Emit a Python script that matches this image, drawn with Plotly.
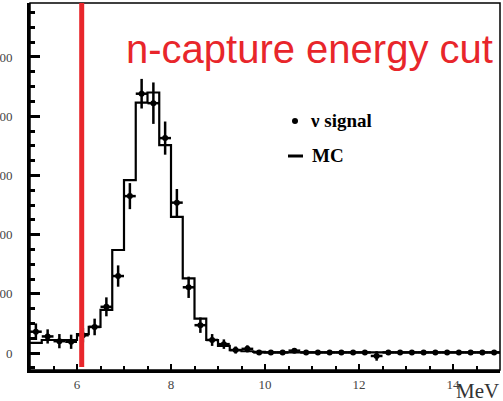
import plotly.graph_objects as go

# ---- data ----
bin_width = 0.25
bin_edges = [5.0 + 0.25 * i for i in range(41)]
bin_centers = [5.125 + 0.25 * i for i in range(40)]

signal = [36, 28, 20, 19, 30, 44, 78, 130, 265, 438,
          422, 363, 254, 111, 47, 22, 15, 5, 7, 1,
          1, 1, 4, 1, 1, 1, 1, 1, 1, -5,
          1, 1, 1, 1, 1, 1, 1, 1, 1, 1]
signal_err = [14, 12, 12, 12, 12, 14, 16, 18, 22, 25,
              35, 28, 23, 18, 13, 10, 8, 6, 6, 4,
              3, 3, 4, 3, 3, 3, 3, 3, 3, 8,
              3, 3, 3, 3, 3, 3, 3, 3, 3, 3]
mc = [17, 22, 22, 22, 32, 44, 73, 174, 292, 423,
      440, 351, 230, 126, 58, 22, 12, 5, 3, 2,
      1, 1, 1, 1, 1, 1, 1, 1, 1, 1,
      1, 1, 1, 1, 1, 1, 1, 1, 1, 1]

cut_energy = 6.1
y_tickvals = [0, 100, 200, 300, 400, 500]
x_tickvals = [6, 8, 10, 12, 14]

W, H = 503, 401
ML, MR, MT, MB = 30, 3, 3, 31
PW, PH = W - ML - MR, H - MT - MB


def px(x):
    return (x - ML) / PW


def py(y):
    return (H - MB - y) / PH


fig = go.Figure()

# MC step histogram
fig.add_trace(go.Scatter(
    x=bin_edges, y=mc + [mc[-1]], mode="lines", line_shape="hv",
    line=dict(color="black", width=2.2), name="MC", showlegend=False,
    hoverinfo="skip"))

# signal points
fig.add_trace(go.Scatter(
    x=bin_centers, y=signal, mode="markers",
    marker=dict(color="black", size=6),
    error_y=dict(type="data", array=signal_err, color="black", thickness=2.5, width=0),
    error_x=dict(type="constant", value=bin_width / 2, color="black", thickness=2.5, width=0),
    name="ν signal", showlegend=False))

serif = "Liberation Serif"

fig.update_layout(
    width=W, height=H,
    margin=dict(l=ML, r=MR, t=MT, b=MB),
    paper_bgcolor="white", plot_bgcolor="white",
    showlegend=False,
    xaxis=dict(
        range=[5, 15], showgrid=False, zeroline=False, automargin=False,
        showline=True, linecolor="black", linewidth=3,
        ticks="inside", ticklen=6, tickwidth=2, tickcolor="black",
        tickvals=x_tickvals,
        tickfont=dict(family=serif, size=13, color="#444"),
        minor=dict(dtick=0.5, ticks="inside", ticklen=4, tickwidth=2, tickcolor="black"),
    ),
    yaxis=dict(
        range=[-28.7, 591.2], showgrid=False, zeroline=False, automargin=False,
        showline=True, linecolor="black", linewidth=3,
        ticks="inside", ticklen=10, tickwidth=2.5, tickcolor="black",
        tickvals=y_tickvals,
        tickfont=dict(family=serif, size=13, color="#444"),
        ticklabelstandoff=12,
        minor=dict(dtick=25, ticks="inside", ticklen=5, tickwidth=2.5, tickcolor="black"),
    ),
    shapes=[
        dict(type="rect", xref="paper", yref="paper", x0=0, x1=1, y0=0, y1=1,
             line=dict(color="black", width=1.5), layer="above"),
        dict(type="line", xref="x", yref="paper", x0=cut_energy, x1=cut_energy,
             y0=py(367), y1=1, line=dict(color="#e8262b", width=5), layer="above"),
        # legend symbols
        dict(type="circle", xref="paper", yref="paper", x0=px(292), x1=px(298),
             y0=py(124), y1=py(118), fillcolor="black", line=dict(color="black", width=0)),
        dict(type="line", xref="paper", yref="paper", x0=px(288), x1=px(303),
             y0=py(156), y1=py(156), line=dict(color="black", width=3)),
    ],
    annotations=[
        dict(text="n-capture energy cut", xref="paper", yref="paper",
             x=px(124), y=py(49), xanchor="left", yanchor="middle", showarrow=False,
             font=dict(family="Liberation Sans", size=40, color="#e8262b")),
        dict(text="<b>ν signal</b>", xref="paper", yref="paper",
             x=px(308), y=py(121), xanchor="left", yanchor="middle", showarrow=False,
             font=dict(family=serif, size=19, color="black")),
        dict(text="<b>MC</b>", xref="paper", yref="paper",
             x=px(310), y=py(155), xanchor="left", yanchor="middle", showarrow=False,
             font=dict(family=serif, size=19, color="black")),
        dict(text="MeV", xref="paper", yref="paper",
             x=px(477), y=py(391), xanchor="center", yanchor="middle", showarrow=False,
             font=dict(family=serif, size=21, color="#333")),
    ],
)

fig.write_html("out.html", config={"displayModeBar": False},
               post_script="document.body.style.margin='0px';")
